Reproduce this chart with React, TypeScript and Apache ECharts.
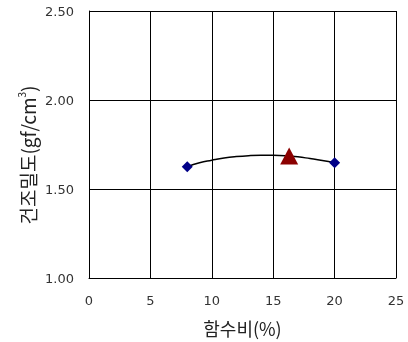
import React, { useEffect, useRef } from "react";
import * as echarts from "echarts";

const xTicks = [0, 5, 10, 15, 20, 25];
const yTicks = [1.0, 1.5, 2.0, 2.5];
const measuredX = [8.0, 20.0];
const measuredY = [1.625, 1.647];
const curveX = [8, 9, 10, 11, 12, 13, 14, 15, 16, 17, 18, 19, 20];
const curveY = [1.625, 1.648, 1.662, 1.674, 1.682, 1.687, 1.689, 1.689, 1.687, 1.681, 1.671, 1.66, 1.647];
const optimumX = [16.3];
const optimumY = [1.685];

export default function App() {
  const ref = useRef<HTMLDivElement>(null);
  useEffect(() => {
    if (!ref.current) return;
    const chart = echarts.init(ref.current, null, { renderer: "svg" });
    const numFont = "DejaVu Sans";
    chart.setOption({
      animation: false,
      grid: { left: 89, right: 12, top: 11, bottom: 63 },
      xAxis: {
        type: "value",
        min: xTicks[0],
        max: xTicks[xTicks.length - 1],
        interval: 5,
        name: "함수비(%)",
        nameLocation: "middle",
        nameGap: 41,
        nameTextStyle: { fontFamily: "Noto Sans CJK KR", fontSize: 18, color: "#222" },
        axisLine: { lineStyle: { color: "#000", width: 1 } },
        axisTick: { show: false },
        axisLabel: { margin: 16, fontFamily: numFont, fontSize: 13, color: "#333" },
        splitLine: { show: true, lineStyle: { color: "#000", width: 1 } },
      },
      yAxis: {
        type: "value",
        min: yTicks[0],
        max: yTicks[yTicks.length - 1],
        interval: 0.5,
        axisLine: { show: true, lineStyle: { color: "#000", width: 1 } },
        axisTick: { show: false },
        axisLabel: {
          margin: 15,
          fontFamily: numFont,
          fontSize: 13,
          color: "#333",
          formatter: (v: number) => v.toFixed(2),
        },
        splitLine: { show: true, lineStyle: { color: "#000", width: 1 } },
      },
      graphic: [
        {
          type: "text",
          x: 27,
          y: 155,
          rotation: Math.PI / 2,
          style: {
            text: "건조밀도(gf/cm{sup|3})",
            fontFamily: "Noto Sans CJK KR",
            fontSize: 19,
            fill: "#222",
            align: "center",
            verticalAlign: "middle",
            rich: {
              sup: { fontSize: 10, verticalAlign: "top", padding: [0, 0, 12, 0], fontFamily: "Noto Sans CJK KR", fill: "#222" },
            },
          },
        },
      ],
      series: [
        {
          type: "line",
          data: curveX.map((x, i) => [x, curveY[i]]),
          showSymbol: false,
          smooth: true,
          lineStyle: { color: "#000", width: 1.5 },
          z: 2,
        },
        {
          type: "scatter",
          data: measuredX.map((x, i) => [x, measuredY[i]]),
          symbol: "diamond",
          symbolSize: [11, 11],
          itemStyle: { color: "#000088", opacity: 1 },
          z: 3,
        },
        {
          type: "scatter",
          data: optimumX.map((x, i) => [x, optimumY[i]]),
          symbol: "triangle",
          symbolSize: [18, 17],
          itemStyle: { color: "#8b0000", opacity: 1 },
          z: 4,
        },
      ],
    });
    return () => chart.dispose();
  }, []);
  return <div ref={ref} style={{ width: 408, height: 342, position: "fixed", left: 0, top: 0 }} />;
}
